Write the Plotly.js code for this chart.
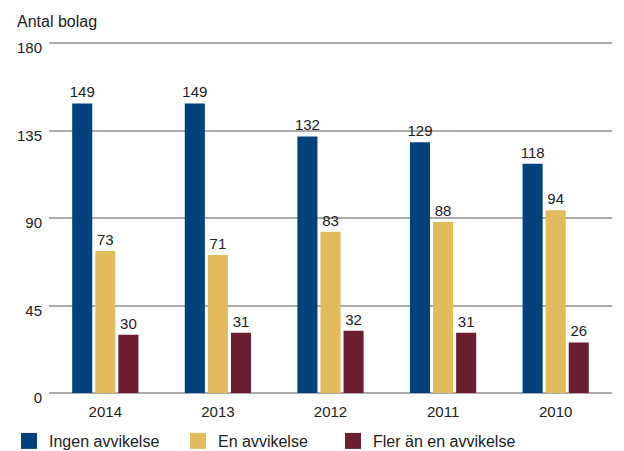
<!DOCTYPE html>
<html>
<head>
<meta charset="utf-8">
<script src="https://cdn.plot.ly/plotly-3.0.1.min.js"></script>
<style>html,body{margin:0;padding:0;background:#fff;}#chart{width:624px;height:451px;}</style>
</head>
<body>
<div id="chart"></div>
<script>
const years = ['2014', '2013', '2012', '2011', '2010'];
const ingen = [149, 149, 132, 129, 118];
const en = [73, 71, 83, 88, 94];
const fler = [30, 31, 32, 31, 26];
const seriesNames = ['Ingen avvikelse', 'En avvikelse', 'Fler än en avvikelse'];
const colors = ['#00437c', '#e2bb5c', '#6a1e30'];
const yTicks = [0, 45, 90, 135, 180];

const fam = 'Liberation Sans, Arial, sans-serif';
const font = {family: fam, size: 15, color: '#222'};
const font16 = {family: fam, size: 16, color: '#222'};
const allSeries = [ingen, en, fler];
const legendIds = ['legend', 'legend2', 'legend3'];
const legendX = [9, 178, 333];

const traces = allSeries.map((vals, i) => ({
  type: 'bar',
  name: seriesNames[i],
  legendgroup: 'g' + i,
  showlegend: false,
  x: years,
  y: vals,
  text: vals.map(String),
  textposition: 'outside',
  constraintext: 'none',
  cliponaxis: false,
  textfont: font,
  marker: {color: colors[i]},
  hoverinfo: 'none'
}));
// legend entries (square swatches), no data drawn
allSeries.forEach((vals, i) => traces.push({
  type: 'scatter', mode: 'markers',
  name: seriesNames[i],
  legendgroup: 'g' + i,
  legend: legendIds[i],
  x: [null], y: [null],
  marker: {symbol: 'square', size: 18, color: colors[i]},
  hoverinfo: 'none'
}));

const layout = {
  width: 624, height: 451,
  margin: {l: 49, r: 12, t: 42, b: 58},
  paper_bgcolor: '#fff', plot_bgcolor: '#fff',
  font: font,
  barmode: 'group',
  bargap: 0.385,
  bargroupgap: 0.13,
  title: {text: 'Antal bolag', font: font16, xref: 'container', x: 17/624, xanchor: 'left', yref: 'container', y: 1 - 21/451, yanchor: 'middle'},
  xaxis: {type: 'category', showgrid: false, showline: false, ticks: '', tickfont: font, fixedrange: true, ticklabelstandoff: 8},
  yaxis: {range: [0, 180.6], tickvals: yTicks, ticktext: yTicks.map(String), showgrid: true, gridcolor: '#ababab', gridwidth: 2, zeroline: true, zerolinecolor: '#ababab', zerolinewidth: 2, showline: false, ticks: '', tickfont: font, ticklabelstandoff: 6, ticklabelshift: 5},
  showlegend: true
};
legendIds.forEach((id, i) => {
  layout[id] = {orientation: 'h', xref: 'container', yref: 'container', x: legendX[i]/624, xanchor: 'left', y: 1 - 441/451, yanchor: 'middle', font: font16, bgcolor: 'rgba(0,0,0,0)'};
});

Plotly.newPlot('chart', traces, layout, {staticPlot: true, displayModeBar: false});
</script>
</body>
</html>
